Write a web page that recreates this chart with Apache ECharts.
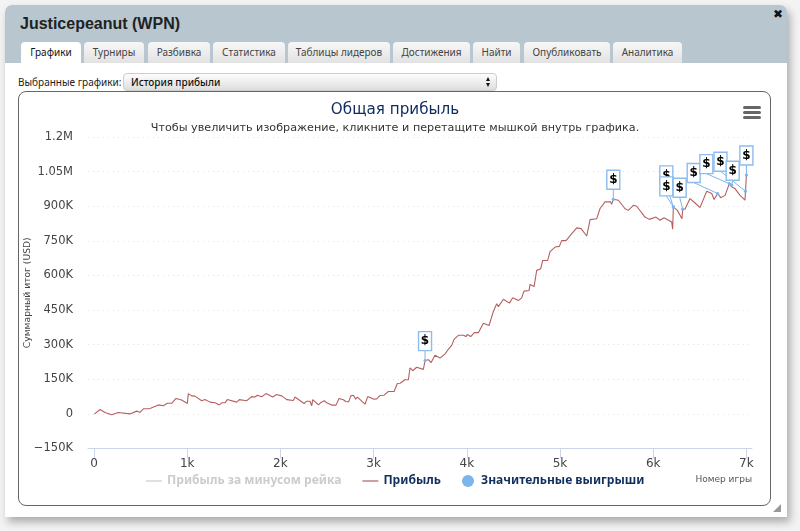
<!DOCTYPE html>
<html><head><meta charset="utf-8">
<script src="https://cdn.jsdelivr.net/npm/echarts@6/dist/echarts.min.js"></script>
<style>
html,body{margin:0;padding:0;width:800px;height:531px;overflow:hidden;background:#f3f3f3;font-family:"Noto Sans",sans-serif}
#panel{position:absolute;left:5px;top:5px;width:782px;height:512px;background:#fff;border-radius:7px 7px 0 0;box-shadow:3px 5px 9px rgba(0,0,0,.3)}
#head{position:absolute;left:5px;top:5px;width:782px;height:58px;background:#b7c6cf;border-radius:7px 7px 0 0}
#ttl{position:absolute;left:20px;top:15px;font:bold 16px "Liberation Sans",sans-serif;color:#222}
#x{position:absolute;left:773px;top:7px;font:bold 12px "DejaVu Sans";color:#111}
.tab{position:absolute;top:42px;height:21px;line-height:21px;text-align:center;font-size:10px;color:#444;background:linear-gradient(#f7f7f7,#e2e2e2);border-radius:4px 4px 0 0;box-sizing:border-box}
.tab.on{background:#fff;color:#111;height:22px}
#lbl{position:absolute;left:18px;top:75px;font-size:10px;color:#222}
#sel{position:absolute;left:123px;top:73px;width:374px;height:18px;box-sizing:border-box;border:1px solid #ccc;border-radius:4px;background:linear-gradient(#fdfdfd,#dedede);font-size:10px;font-weight:500;line-height:16px;padding-left:7px;color:#111}
#sel i{position:absolute;right:6px;top:3px;width:0;height:0;border-left:2.5px solid transparent;border-right:2.5px solid transparent;border-bottom:4px solid #111}
#sel u{position:absolute;right:6px;top:9px;width:0;height:0;border-left:2.5px solid transparent;border-right:2.5px solid transparent;border-top:4px solid #111}
#box{position:absolute;left:18px;top:91px;width:753px;height:415px;box-sizing:border-box;border:1px solid #666;border-radius:8px;background:#fff}
#grip{position:absolute;left:773px;top:504px;width:0;height:0;border-left:8px solid transparent;border-bottom:8px solid #999}
#chart{position:absolute;left:0;top:0;width:800px;height:531px}
</style></head><body>
<div id="panel"></div><div id="head"></div><div id="ttl">Justicepeanut (WPN)</div><div id="x">✖</div>
<div class="tab on" style="left:21px;width:60px">Графики</div>
<div class="tab" style="left:84px;width:60px">Турниры</div>
<div class="tab" style="left:148px;width:62px">Разбивка</div>
<div class="tab" style="left:213px;width:72px">Статистика</div>
<div class="tab" style="left:288px;width:102px">Таблицы лидеров</div>
<div class="tab" style="left:393px;width:77px">Достижения</div>
<div class="tab" style="left:473px;width:47px">Найти</div>
<div class="tab" style="left:524px;width:86px">Опубликовать</div>
<div class="tab" style="left:613px;width:69px">Аналитика</div>
<div id="lbl">Выбранные графики:</div>
<div id="sel">История прибыли<i></i><u></u></div>
<div id="box"></div><div id="grip"></div>
<div id="chart"></div>
<script>
const titleText = 'Общая прибыль';
const subtitleText = 'Чтобы увеличить изображение, кликните и перетащите мышкой внутрь графика.';
const seriesNames = ['Прибыль за минусом рейка', 'Прибыль', 'Значительные выигрыши'];
const yAxisTitle = 'Суммарный итог (USD)';
const xAxisTitle = 'Номер игры';
const xTicks = [0,1000,2000,3000,4000,5000,6000,7000];
const xTickLabels = ['0','1k','2k','3k','4k','5k','6k','7k'];
const yTickLabels = {'-150':'−150K','0':'0','150':'150K','300':'300K','450':'450K','600':'600K','750':'750K','900':'900K','1050':'1.05M','1200':'1.2M'};
const games = [4,65,118,190,261,387,458,494,530,601,691,744,787,834,880,941,1002,1012,1048,1084,1156,1191,1245,1299,1345,1370,1406,1431,1531,1560,1638,1692,1728,1753,1799,1846,1918,1960,2014,2068,2139,2157,2254,2282,2318,2336,2347,2408,2433,2472,2497,2551,2597,2629,2676,2701,2722,2733,2755,2783,2808,2826,2908,2937,2998,3034,3069,3112,3159,3220,3237,3255,3284,3337,3373,3391,3420,3462,3534,3552,3588,3616,3659,3713,3767,3802,3838,3863,3913,3963,3992,4006,4042,4081,4124,4178,4239,4285,4321,4339,4393,4457,4493,4553,4589,4614,4668,4679,4722,4750,4793,4815,4868,4893,4947,4993,5018,5065,5126,5180,5226,5287,5323,5394,5430,5483,5544,5554,5572,5627,5698,5733,5787,5823,5912,5959,6030,6073,6116,6198,6209,6216,6259,6309,6316,6341,6395,6449,6502,6574,6628,6653,6692,6724,6771,6817,6842,6878,6932,6985,7000];
const profit = [-1,19,6,-4,6,0,12,7,22,23,39,35,46,46,67,60,45,88,78,77,57,62,51,48,39,48,48,62,51,62,57,75,73,81,74,88,73,84,78,62,58,73,45,55,55,35,62,39,49,57,48,38,38,67,61,54,61,52,78,81,64,73,42,75,64,65,80,81,97,97,94,132,133,148,148,199,187,202,193,231,235,222,254,242,260,280,297,323,341,341,335,344,335,352,352,393,383,444,477,465,497,480,503,491,503,532,535,561,552,622,629,665,665,703,723,726,751,751,781,806,803,771,842,846,890,919,919,908,930,926,889,882,904,900,853,843,853,839,850,832,801,897,882,846,887,887,933,914,894,965,955,929,955,937,947,998,984,976,947,926,1035];
const winGames = [3552,5572,6216,6216,6316,6692,6817,6990,6842,7000];
const winValues = [231,930,897,897,887,955,998,965,991,1035];
// pixel offset of each flag's lower edge from its point (layout only)
const flagDx = [0,0,-7,-7,-3,-24,-23,-25,1,0];
const flagDy = [-10,-10,-22,-11,-12,-11,-10,-20,-5,-10];

const chart = echarts.init(document.getElementById('chart'), null, {renderer:'canvas'});
const font = '"DejaVu Sans",sans-serif';
const FW = 13, FH = 19;
const lineIcon = 'path://M0,0L0,0M0,12L0,12M0,5.4H16V6.6H0Z';
chart.setOption({
  animation:false,
  backgroundColor:'transparent',
  title:[
    {text:titleText,left:390,top:98,textAlign:'center',textStyle:{fontFamily:font,fontSize:15.2,fontWeight:'normal',color:'#0d2b5c'}},
    {text:subtitleText,left:390,top:118,textAlign:'center',textStyle:{fontFamily:font,fontSize:11.2,fontWeight:'normal',color:'#333'}}
  ],
  grid:{left:88,right:48,top:137,bottom:82.5,containLabel:false},
  legend:{
    left:141,top:470,itemWidth:16,itemHeight:12,itemGap:21,
    textStyle:{fontFamily:'"Noto Sans",sans-serif',fontSize:12.1,fontWeight:'bold',color:'#12305e'},
    inactiveColor:'#ccc',
    selected:{[seriesNames[0]]:false},
    data:[{name:seriesNames[0],icon:lineIcon},{name:seriesNames[1],icon:lineIcon},{name:seriesNames[2],icon:'circle'}]
  },
  xAxis:{
    type:'value',min:-64,max:7060,
    name:xAxisTitle,nameLocation:'end',nameGap:0,nameMoveOverlap:false,
    nameTextStyle:{fontFamily:font,fontSize:9,color:'#555',align:'right',verticalAlign:'top',padding:[27,0,0,0]},
    splitLine:{show:false},
    axisLine:{show:true,onZero:false,lineStyle:{color:'#ccd6eb',width:1}},
    axisTick:{show:true,length:10,customValues:xTicks,lineStyle:{color:'#ccd6eb'}},
    axisLabel:{customValues:xTicks,margin:9,fontFamily:font,fontSize:12,color:'#444',
      formatter:v=>xTickLabels[xTicks.indexOf(v)]}
  },
  yAxis:{
    type:'value',min:-150,max:1200,interval:150,
    name:yAxisTitle,nameLocation:'middle',nameGap:56,nameRotate:90,nameMoveOverlap:false,
    nameTextStyle:{fontFamily:font,fontSize:9.2,color:'#444'},
    axisLine:{show:false},axisTick:{show:false},
    splitLine:{lineStyle:{color:'#e3e3e3',type:[1,4],width:1}},
    axisLabel:{margin:15,fontFamily:font,fontSize:11.5,color:'#444',formatter:v=>yTickLabels[String(v)]}
  },
  series:[
    {name:seriesNames[0],type:'line',symbol:'none',data:[],lineStyle:{color:'#b5605f',width:1},itemStyle:{color:'#b5605f'}},
    {name:seriesNames[1],type:'line',symbol:'none',z:2,data:games.map((g,i)=>[g,profit[i]]),
      lineStyle:{color:'#b5605f',width:1.1},itemStyle:{color:'#b5605f'}},
    {name:seriesNames[2],type:'custom',z:5,clip:false,itemStyle:{color:'#7cb5ec'},
      data:winGames.map((g,i)=>[g,winValues[i],i]),
      encode:{x:0,y:1},
      renderItem:(params,api)=>{
        const p=api.coord([api.value(0),api.value(1)]);
        const i=api.value(2);
        const cx=p[0]+flagDx[i], by=p[1]+flagDy[i];
        return {type:'group',children:[
          {type:'line',shape:{x1:cx,y1:by,x2:p[0],y2:p[1]},style:{stroke:'#7cb5ec',lineWidth:1}},
          {type:'circle',shape:{cx:p[0],cy:p[1],r:1.6},style:{fill:'#7cb5ec'}},
          {type:'rect',shape:{x:cx-FW/2,y:by-FH,width:FW,height:FH},style:{fill:'#fff',stroke:'#8dbcee',lineWidth:1.4}},
          {type:'text',x:cx,y:by-FH/2,style:{text:'$',fill:'#000',font:'bold 12px "DejaVu Sans"',align:'center',verticalAlign:'middle'}}
        ]};
      }}
  ],
  graphic:[
    {type:'rect',left:743,top:106,shape:{width:18,height:3,r:1.5},style:{fill:'#666'}},
    {type:'rect',left:743,top:111,shape:{width:18,height:3,r:1.5},style:{fill:'#666'}},
    {type:'rect',left:743,top:116,shape:{width:18,height:3,r:1.5},style:{fill:'#666'}}
  ]
});
</script></body></html>
